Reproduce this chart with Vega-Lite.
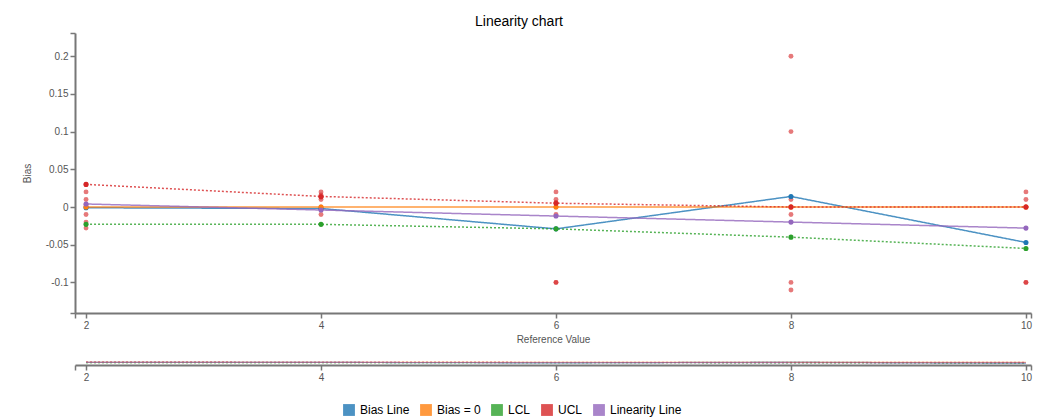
{
  "$schema": "https://vega.github.io/schema/vega-lite/v6.json",
  "padding": {"left": 22, "top": 15, "right": 6, "bottom": 2},
  "background": "white",
  "config": {
    "font": "Liberation Sans",
    "view": {"stroke": null},
    "axis": {
      "grid": false,
      "domainColor": "#777",
      "domainWidth": 2,
      "tickColor": "#777",
      "tickWidth": 1.5,
      "tickSize": 5,
      "tickCount": 20,
      "labelFontSize": 10,
      "labelColor": "#555",
      "labelOverlap": false,
      "labelFlush": false,
      "titleFontSize": 10,
      "titleFontWeight": "normal",
      "titleColor": "#555"
    },
    "legend": {
      "labelFontSize": 12,
      "labelColor": "#000",
      "symbolType": "square",
      "symbolSize": 140,
      "symbolStrokeWidth": 0,
      "columnPadding": 10,
      "labelOffset": 5
    }
  },
  "datasets": {
    "lines": [
      {"series": "Bias Line", "ref": 2, "bias": -0.001},
      {"series": "Bias Line", "ref": 4, "bias": -0.002},
      {"series": "Bias Line", "ref": 6, "bias": -0.029},
      {"series": "Bias Line", "ref": 8, "bias": 0.014},
      {"series": "Bias Line", "ref": 10, "bias": -0.047},
      {"series": "Bias = 0", "ref": 2, "bias": 0},
      {"series": "Bias = 0", "ref": 4, "bias": 0},
      {"series": "Bias = 0", "ref": 6, "bias": 0},
      {"series": "Bias = 0", "ref": 8, "bias": 0},
      {"series": "Bias = 0", "ref": 10, "bias": 0},
      {"series": "LCL", "ref": 2, "bias": -0.023},
      {"series": "LCL", "ref": 4, "bias": -0.023},
      {"series": "LCL", "ref": 6, "bias": -0.029},
      {"series": "LCL", "ref": 8, "bias": -0.040},
      {"series": "LCL", "ref": 10, "bias": -0.055},
      {"series": "UCL", "ref": 2, "bias": 0.030},
      {"series": "UCL", "ref": 4, "bias": 0.014},
      {"series": "UCL", "ref": 6, "bias": 0.005},
      {"series": "UCL", "ref": 8, "bias": 0.000},
      {"series": "UCL", "ref": 10, "bias": 0.000},
      {"series": "Linearity Line", "ref": 2, "bias": 0.004},
      {"series": "Linearity Line", "ref": 4, "bias": -0.004},
      {"series": "Linearity Line", "ref": 6, "bias": -0.012},
      {"series": "Linearity Line", "ref": 8, "bias": -0.020},
      {"series": "Linearity Line", "ref": 10, "bias": -0.028}
    ],
    "obs": [
      {"ref": 2, "bias": 0.03}, {"ref": 2, "bias": 0.02}, {"ref": 2, "bias": 0.01}, {"ref": 2, "bias": 0.003},
      {"ref": 2, "bias": 0}, {"ref": 2, "bias": -0.01}, {"ref": 2, "bias": -0.02}, {"ref": 2, "bias": -0.028},
      {"ref": 4, "bias": 0.02}, {"ref": 4, "bias": 0.016}, {"ref": 4, "bias": 0.01}, {"ref": 4, "bias": 0.013},
      {"ref": 4, "bias": 0}, {"ref": 4, "bias": -0.003}, {"ref": 4, "bias": -0.01},
      {"ref": 6, "bias": 0.02}, {"ref": 6, "bias": 0.01}, {"ref": 6, "bias": 0.006}, {"ref": 6, "bias": 0},
      {"ref": 6, "bias": -0.01}, {"ref": 6, "bias": -0.1}, {"ref": 6, "bias": -0.1},
      {"ref": 8, "bias": 0.2}, {"ref": 8, "bias": 0.1}, {"ref": 8, "bias": 0.01}, {"ref": 8, "bias": 0},
      {"ref": 8, "bias": 0}, {"ref": 8, "bias": -0.01}, {"ref": 8, "bias": -0.1}, {"ref": 8, "bias": -0.11},
      {"ref": 10, "bias": 0.02}, {"ref": 10, "bias": 0.01}, {"ref": 10, "bias": 0}, {"ref": 10, "bias": 0},
      {"ref": 10, "bias": -0.1}, {"ref": 10, "bias": -0.1}
    ]
  },
  "spacing": 14,
  "vconcat": [
    {
      "width": 956,
      "height": 280,
      "title": {"text": "Linearity chart", "fontSize": 14, "fontWeight": "normal", "color": "#000", "offset": 3, "dx": -34, "dy": 4},
      "layer": [
        {
          "data": {"name": "obs"},
          "mark": {"type": "circle", "size": 24, "color": "#d62728", "opacity": 0.62},
          "encoding": {
            "x": {"field": "ref", "type": "quantitative"},
            "y": {"field": "bias", "type": "quantitative"}
          }
        },
        {
          "data": {"name": "lines"},
          "mark": {"type": "line", "strokeWidth": 1.5, "opacity": 0.8},
          "encoding": {
            "x": {"field": "ref", "type": "quantitative", "scale": {"domain": [1.906, 10.043], "nice": false, "zero": false},
              "axis": {"values": [1.906, 2, 4, 6, 8, 10, 10.043], "tickCount": 20, "labelOverlap": false, "labelExpr": "datum.value == 1.906 || datum.value == 10.043 ? '' : datum.value + ''", "title": "Reference Value", "titlePadding": 4}},
            "y": {"field": "bias", "type": "quantitative", "scale": {"domain": [-0.1406, 0.2308], "nice": false, "zero": false},
              "axis": {"values": [-0.1406, -0.1, -0.05, 0, 0.05, 0.1, 0.15, 0.2, 0.2308], "tickCount": 20, "labelOverlap": false, "labelExpr": "datum.value == -0.1406 || datum.value == 0.2308 ? '' : datum.value + ''", "title": "Bias", "minExtent": 28, "maxExtent": 28, "titlePadding": 15}},
            "color": {"field": "series", "type": "nominal",
              "scale": {"domain": ["Bias Line", "Bias = 0", "LCL", "UCL", "Linearity Line"], "range": ["#1f77b4", "#ff7f0e", "#2ca02c", "#d62728", "#9467bd"]},
              "legend": {"orient": "none", "legendX": 268, "legendY": 371, "direction": "horizontal", "title": null}},
            "strokeDash": {"field": "series", "type": "nominal",
              "scale": {"domain": ["Bias Line", "Bias = 0", "LCL", "UCL", "Linearity Line"], "range": [[1, 0], [1, 0], [2, 2], [2, 2], [1, 0]]},
              "legend": null}
          }
        },
        {
          "data": {"name": "lines"},
          "mark": {"type": "circle", "size": 26, "opacity": 1},
          "encoding": {
            "x": {"field": "ref", "type": "quantitative"},
            "y": {"field": "bias", "type": "quantitative"},
            "color": {"field": "series", "type": "nominal"}
          }
        }
      ]
    },
    {
      "width": 956,
      "height": 7,
      "data": {"name": "lines"},
      "mark": {"type": "line", "strokeWidth": 1.2, "opacity": 0.6},
      "encoding": {
        "x": {"field": "ref", "type": "quantitative", "scale": {"domain": [1.906, 10.043], "nice": false, "zero": false},
          "axis": {"values": [1.906, 2, 4, 6, 8, 10, 10.043], "tickCount": 20, "labelOverlap": false, "labelExpr": "datum.value == 1.906 || datum.value == 10.043 ? '' : datum.value + ''", "title": null}},
        "y": {"field": "bias", "type": "quantitative", "scale": {"domain": [-0.1406, 0.2308], "nice": false, "zero": false}, "axis": null},
        "color": {"field": "series", "type": "nominal"},
        "strokeDash": {"field": "series", "type": "nominal", "legend": null}
      }
    }
  ],
  "resolve": {"scale": {"color": "shared", "strokeDash": "shared"}}
}
